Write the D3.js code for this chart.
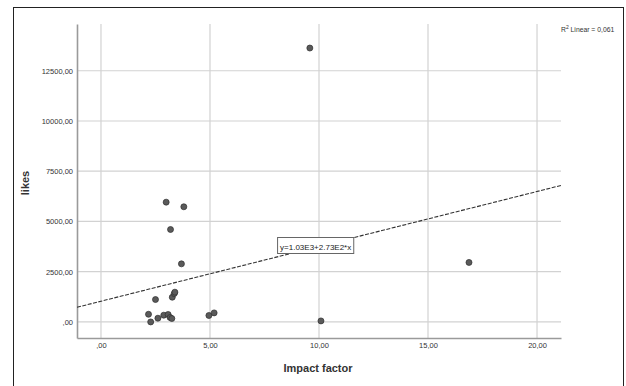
<!DOCTYPE html>
<html>
<head>
<meta charset="utf-8">
<script src="https://cdn.jsdelivr.net/npm/d3@7"></script>
<style>
  html, body { margin: 0; padding: 0; background: #fff; }
  svg { display: block; font-family: "Liberation Sans", Arial, sans-serif; }
</style>
</head>
<body>
<svg id="chart" width="626" height="386"></svg>
<script>
// Impact factor (x) against likes (y) for each journal
const impactFactor = [9.58, 2.99, 3.80, 3.19, 3.69, 16.88, 10.09, 2.50, 3.27, 3.36, 3.39,
                      2.18, 2.28, 2.61, 2.88, 3.08, 3.17, 3.25, 4.95, 5.19];
const likes        = [13630, 5960, 5730, 4600, 2890, 2960, 50, 1115, 1230, 1410, 1480,
                      380, 0, 185, 335, 370, 220, 170, 320, 450];

// Linear fit: likes = a + b * impact factor
const fitIntercept = 1030;
const fitSlope = 273;
const fitLabel = "y=1.03E3+2.73E2*x";
const rSquaredLabel = "0,061";

const xTicks = [0, 5, 10, 15, 20];
const xTickLabels = [",00", "5,00", "10,00", "15,00", "20,00"];
const yTicks = [0, 2500, 5000, 7500, 10000, 12500];
const yTickLabels = [",00", "2500,00", "5000,00", "7500,00", "10000,00", "12500,00"];

const svg = d3.select("#chart");

// outer frame
svg.append("rect")
  .attr("x", 13.5).attr("y", 7.5)
  .attr("width", 610).attr("height", 400)
  .attr("fill", "none").attr("stroke", "#222").attr("stroke-width", 1);

const plot = { left: 77, right: 561, top: 24, bottom: 338 };

const x = d3.scaleLinear().domain([-1.1, 21.1]).range([plot.left, plot.right]);
const y = d3.scaleLinear().domain([-800, 14826]).range([plot.bottom, plot.top]);

// grid lines
const grid = svg.append("g").attr("stroke", "#d2d2d2").attr("stroke-width", 1.2);
grid.selectAll("line.h").data(yTicks).join("line")
  .attr("class", "h")
  .attr("x1", plot.left).attr("x2", plot.right)
  .attr("y1", d => y(d)).attr("y2", d => y(d));
grid.selectAll("line.v").data(xTicks).join("line")
  .attr("class", "v")
  .attr("x1", d => x(d)).attr("x2", d => x(d))
  .attr("y1", plot.top).attr("y2", plot.bottom);

// axes
const xAxis = d3.axisBottom(x).tickValues(xTicks).tickSize(0).tickPadding(5)
  .tickFormat((d, i) => xTickLabels[i]);
const yAxis = d3.axisLeft(y).tickValues(yTicks).tickSize(0).tickPadding(4)
  .tickFormat((d, i) => yTickLabels[i]);

const gx = svg.append("g").attr("transform", `translate(0,${plot.bottom})`).call(xAxis);
const gy = svg.append("g").attr("transform", `translate(${plot.left},0)`).call(yAxis);
[gx, gy].forEach(g => {
  g.select(".domain").attr("stroke", "#9a9a9a").attr("stroke-width", 1.6);
  g.selectAll("text").attr("fill", "#333").attr("font-size", 7.5)
    .attr("font-family", "'Liberation Sans', Arial, sans-serif");
});

// fit line across the whole x range
const fitLine = d3.line().x(d => x(d)).y(d => y(fitIntercept + fitSlope * d));
svg.append("path")
  .datum(x.domain())
  .attr("d", fitLine)
  .attr("fill", "none")
  .attr("stroke", "#333")
  .attr("stroke-width", 1.1)
  .attr("stroke-dasharray", "4,1.5");

// points
svg.append("g").selectAll("circle")
  .data(impactFactor.map((v, i) => [v, likes[i]]))
  .join("circle")
  .attr("cx", d => x(d[0]))
  .attr("cy", d => y(d[1]))
  .attr("r", 3)
  .attr("fill", "#5a5a5a")
  .attr("stroke", "#2e2e2e")
  .attr("stroke-width", 0.7);

// equation label
const eqX = 8.1;
const eqG = svg.append("g");
const eqText = eqG.append("text")
  .attr("x", x(eqX) + 2.5)
  .attr("y", 249.5)
  .attr("font-size", 8)
  .attr("fill", "#222")
  .text(fitLabel);
const bb = eqText.node().getBBox();
eqG.insert("rect", "text")
  .attr("x", bb.x - 2.5).attr("y", 237.5)
  .attr("width", bb.width + 5).attr("height", 16)
  .attr("fill", "#fff").attr("stroke", "#666").attr("stroke-width", 1);

// R squared note
const r2 = svg.append("text")
  .attr("x", 561).attr("y", 32)
  .attr("font-size", 6.8)
  .attr("fill", "#333");
r2.append("tspan").text("R");
r2.append("tspan").attr("dy", -3).attr("font-size", 5).text("2");
r2.append("tspan").attr("dy", 3).text(" Linear = " + rSquaredLabel);

// axis titles
svg.append("text")
  .attr("x", 318).attr("y", 372)
  .attr("text-anchor", "middle")
  .attr("font-size", 11).attr("font-weight", "bold").attr("fill", "#333")
  .text("Impact factor");
svg.append("text")
  .attr("transform", "translate(29,183) rotate(-90)")
  .attr("text-anchor", "middle")
  .attr("font-size", 11).attr("font-weight", "bold").attr("fill", "#333")
  .text("likes");
</script>
</body>
</html>
